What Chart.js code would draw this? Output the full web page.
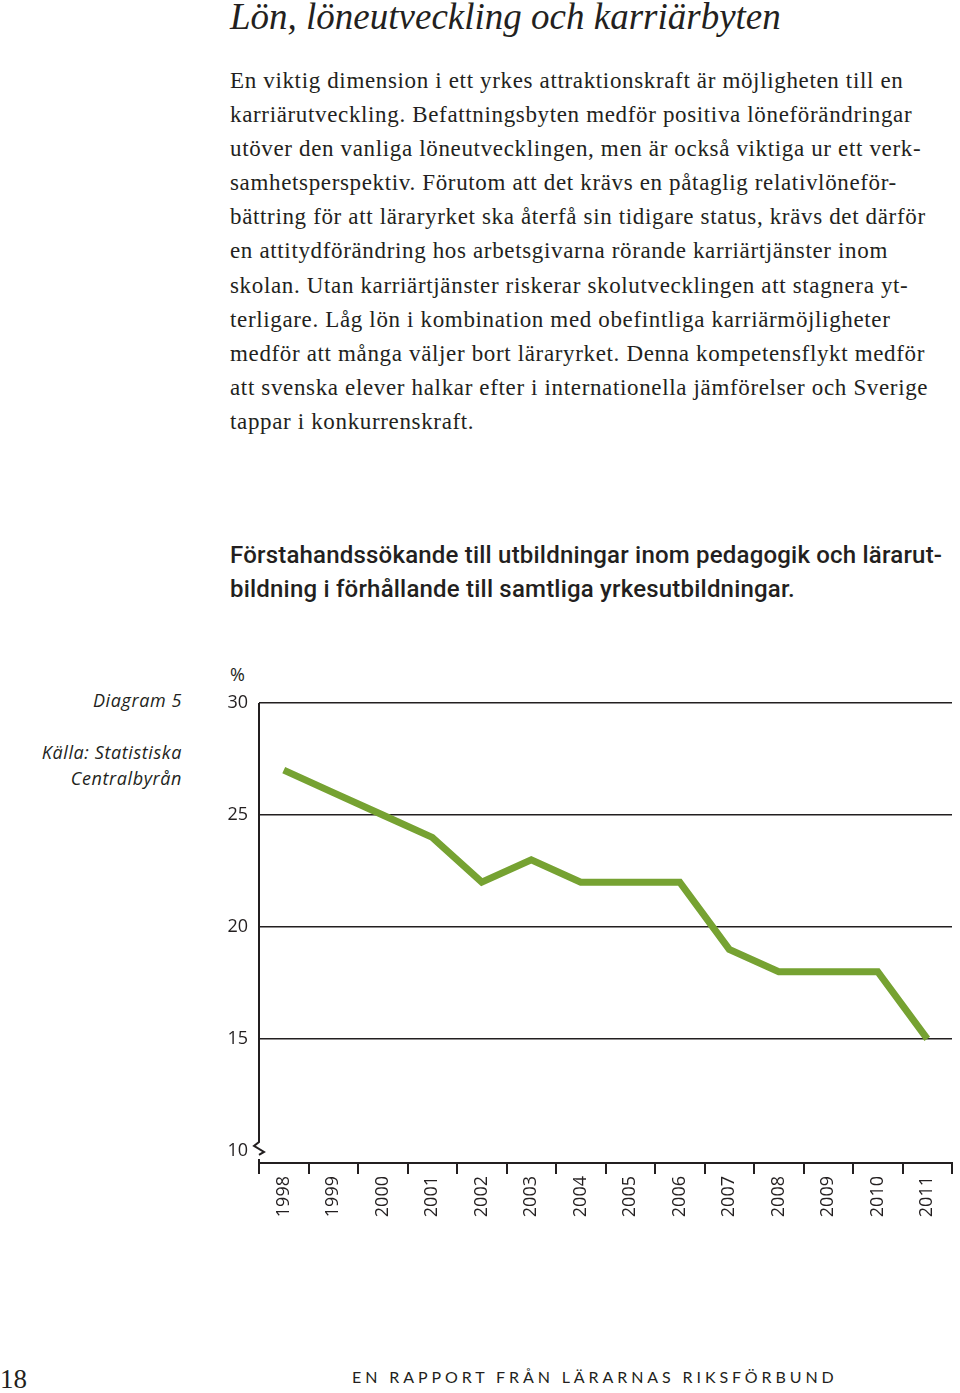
<!DOCTYPE html>
<html>
<head>
<meta charset="utf-8">
<script src="https://cdn.jsdelivr.net/npm/chart.js@4/dist/chart.umd.min.js"></script>
<style>
  html, body { margin: 0; padding: 0; background: #fff; }
  body { width: 960px; height: 1393px; position: relative; overflow: hidden; color: #231f20; }
  .abs { position: absolute; white-space: nowrap; }
  #title { left: 230px; top: -2px; font: italic 37px/37px "Liberation Serif", serif; }
  #body { left: 230px; top: 64px; font: 23px/34.1px "Liberation Serif", serif; letter-spacing: 0.65px; }
  #ctitle { left: 230px; top: 538px; font: 500 24px/34px Roboto, sans-serif; letter-spacing: 0.2px; }
  .side { right: 778px; font: italic 18px/26px "Open Sans", sans-serif; letter-spacing: 0.6px; text-align: right; }
  #pct { left: 230px; top: 662px; font: 18px "Open Sans", sans-serif; }
  #page { left: 0; top: 1364px; font: 27px "Liberation Serif", serif; }
  #foot { left: 352px; top: 1367px; font: 16px Lato, sans-serif; letter-spacing: 3.9px; }
  #wrap { position: absolute; left: 0; top: 640px; width: 960px; height: 620px; }
</style>
</head>
<body>
<div id="title" class="abs">Lön, löneutveckling och karriärbyten</div>
<div id="body" class="abs">
En viktig dimension i ett yrkes attraktionskraft är möjligheten till en<br>
karriärutveckling. Befattningsbyten medför positiva löneförändringar<br>
utöver den vanliga löneutvecklingen, men är också viktiga ur ett verk-<br>
samhetsperspektiv. Förutom att det krävs en påtaglig relativlöneför-<br>
bättring för att läraryrket ska återfå sin tidigare status, krävs det därför<br>
en attitydförändring hos arbetsgivarna rörande karriärtjänster inom<br>
skolan. Utan karriärtjänster riskerar skolutvecklingen att stagnera yt-<br>
terligare. Låg lön i kombination med obefintliga karriärmöjligheter<br>
medför att många väljer bort läraryrket. Denna kompetensflykt medför<br>
att svenska elever halkar efter i internationella jämförelser och Sverige<br>
tappar i konkurrenskraft.
</div>
<div id="ctitle" class="abs">Förstahandssökande till utbildningar inom pedagogik och lärarut-<br>bildning i förhållande till samtliga yrkesutbildningar.</div>
<div class="abs side" style="top:687px">Diagram 5</div>
<div class="abs side" style="top:739px">Källa: Statistiska<br>Centralbyrån</div>
<div id="pct" class="abs">%</div>
<div id="wrap"><canvas id="c" width="960" height="620"></canvas></div>
<div id="page" class="abs">18</div>
<div id="foot" class="abs">EN RAPPORT FRÅN LÄRARNAS RIKSFÖRBUND</div>

<script>
const years = ['1998', '1999', '2000', '2001', '2002', '2003', '2004', '2005', '2006', '2007', '2008', '2009', '2010', '2011'];
const shares = [27, 26, 25, 24, 22, 23, 22, 22, 22, 19, 18, 18, 18, 15];
const yTicks = [10, 15, 20, 25, 30];

const ink = '#231f20';
const green = '#76a232';
const tickFont = {family: 'Open Sans', size: 18};

// y axis line with the zigzag break at 10
const axisBreak = {
  id: 'axisBreak',
  afterDraw(chart) {
    const ctx = chart.ctx;
    const y = chart.scales.y;
    const a = chart.chartArea;
    const x0 = a.left;
    const p10 = y.getPixelForValue(10);
    ctx.save();
    ctx.strokeStyle = ink;
    ctx.lineWidth = 2;
    ctx.beginPath();
    ctx.moveTo(x0, a.top);
    ctx.lineTo(x0, p10 - 9);
    ctx.lineTo(x0 - 5, p10 - 5);
    ctx.lineTo(x0 + 5, p10 + 1);
    ctx.lineTo(x0, p10 + 4);
    ctx.moveTo(x0, p10 + 8);
    ctx.lineTo(x0, a.bottom);
    ctx.stroke();
    ctx.restore();
  }
};

new Chart(document.getElementById('c'), {
  type: 'line',
  data: {
    labels: years,
    datasets: [{
      data: shares,
      borderColor: green,
      borderWidth: 7,
      borderJoinStyle: 'miter',
      pointRadius: 0,
      tension: 0,
      fill: false
    }]
  },
  options: {
    responsive: false,
    devicePixelRatio: 1,
    animation: false,
    layout: {padding: {top: 63, right: 8, left: 0, bottom: 0}},
    plugins: {legend: {display: false}, tooltip: {enabled: false}},
    scales: {
      x: {
        offset: true,
        grid: {offset: true, drawOnChartArea: false, drawTicks: true, tickLength: 11, color: ink, lineWidth: 2},
        border: {display: true, color: ink, width: 2},
        ticks: {minRotation: 90, maxRotation: 90, padding: 2, color: ink, font: tickFont},
        afterFit: s => { s.height = 97; }
      },
      y: {
        min: 9.46,
        max: 30,
        afterBuildTicks: s => { s.ticks = yTicks.map(v => ({value: v})); },
        grid: {
          drawTicks: false,
          color: c => (c.tick && c.tick.value === 10) ? 'rgba(0,0,0,0)' : ink,
          lineWidth: 1.5
        },
        border: {display: false},
        ticks: {padding: 11, color: ink, font: tickFont},
        afterFit: s => { s.width = 259; }
      }
    }
  },
  plugins: [axisBreak]
});
</script>
</body>
</html>
